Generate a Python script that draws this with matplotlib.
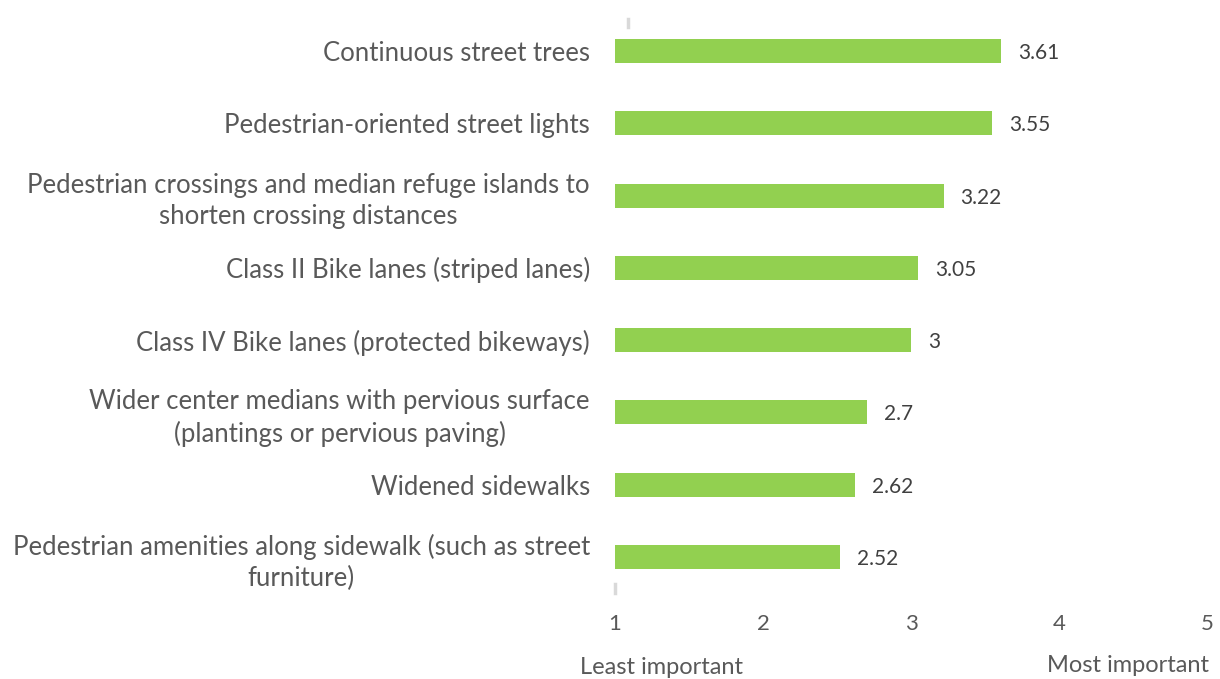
import matplotlib
matplotlib.use("Agg")
import matplotlib.pyplot as plt

categories = [
    "Continuous street trees",
    "Pedestrian-oriented street lights",
    "Pedestrian crossings and median refuge islands to\nshorten crossing distances",
    "Class II Bike lanes (striped lanes)",
    "Class IV Bike lanes (protected bikeways)",
    "Wider center medians with pervious surface\n(plantings or pervious paving)",
    "Widened sidewalks",
    "Pedestrian amenities along sidewalk (such as street\nfurniture)",
]
values = [3.61, 3.55, 3.22, 3.05, 3.0, 2.7, 2.62, 2.52]
value_labels = ["3.61", "3.55", "3.22", "3.05", "3", "2.7", "2.62", "2.52"]
xticks = [1, 2, 3, 4, 5]

plt.rcParams['font.family'] = ['Lato', 'DejaVu Sans']
txt = '#595959'
green = '#92D050'

fig = plt.figure(figsize=(12.2, 6.79), dpi=100)
ax = fig.add_axes([615/1220, (679-593)/679, 592/1220, 578/679])

ypos = list(range(len(categories)))
base = 1
ax.barh(ypos, [v - base for v in values], left=base, height=0.33, color=green)
for y, v, lab in zip(ypos, values, value_labels):
    ax.annotate(lab, (v, y), xytext=(17, -2), textcoords='offset pixels',
                ha='left', va='center', fontsize=15, color='#404040')

ax.set_xlim(1, 5)
ax.set_ylim(len(categories) - 0.5, -0.5)
ax.set_yticks(ypos)
ax.set_yticklabels(categories, fontsize=18.5, color=txt, multialignment='center',
                   linespacing=1.3)
ax.set_xticks(xticks)
ax.set_xticklabels([str(t) for t in xticks], fontsize=16, color=txt)
ax.tick_params(axis='y', length=0, pad=18)
ax.tick_params(axis='x', length=0, pad=15)
for s in ax.spines.values():
    s.set_visible(False)

# faint marks at axis ends
ax.plot([1.0, 1.0], [7.5 - 0.0, 7.5 - 0.12], color='#d9d9d9', lw=2.5, clip_on=False)
ax.plot([1.09, 1.09], [-0.5 + 0.05, -0.5 + 0.17], color='#d9d9d9', lw=2.5, clip_on=False)

fig.text(662/1220, 1 - 668/679, "Least important", ha='center', va='center', fontsize=17, color=txt)
fig.text(1128/1220, 1 - 666/679, "Most important", ha='center', va='center', fontsize=17, color=txt)

fig.savefig("out.png", dpi=100)
